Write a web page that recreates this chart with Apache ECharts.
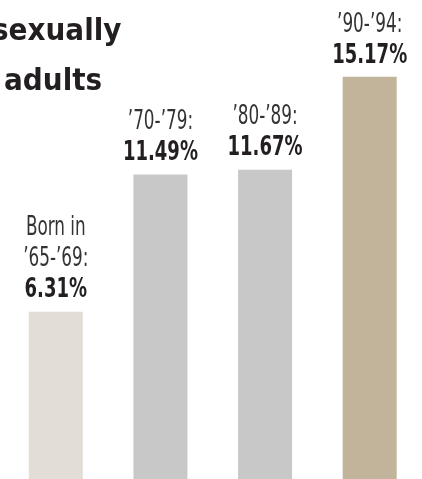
<!DOCTYPE html>
<html>
<head>
<meta charset="utf-8">
<script src="https://cdn.jsdelivr.net/npm/echarts@6/dist/echarts.min.js"></script>
<style>
html,body{margin:0;padding:0;background:#fff;}
#c{width:422px;height:479px;}
</style>
</head>
<body>
<div id="c"></div>
<script>
const categories = ["Born in\n’65-’69:", "’70-’79:", "’80-’89:", "’90-’94:"];
const values = [6.31, 11.49, 11.67, 15.17];
const valueLabels = ["6.31%", "11.49%", "11.67%", "15.17%"];
const barColors = ["#e2ded6", "#c8c8c8", "#c8c8c8", "#c2b49a"];
const titleLines = ["sexually", "adults"];

const FONT = "'DejaVu Sans Condensed', 'DejaVu Sans', sans-serif";

const chart = echarts.init(document.getElementById('c'), null, {renderer: 'canvas'});
chart.setOption({
  animation: false,
  backgroundColor: '#ffffff',
  title: [
    {text: titleLines[0], left: -8, top: 16, padding: 0, textStyle: {fontFamily: FONT, fontWeight: 'bold', fontSize: 31, color: '#231f20'}},
    {text: titleLines[1], left: 4, top: 66, padding: 0, textStyle: {fontFamily: FONT, fontWeight: 'bold', fontSize: 31, color: '#231f20'}}
  ],
  grid: {left: 3.5, width: 420, top: 0, bottom: 0, containLabel: false},
  xAxis: {
    type: 'category', data: categories,
    axisLine: {show: false}, axisTick: {show: false}, axisLabel: {show: false}, splitLine: {show: false}
  },
  yAxis: {
    type: 'value', min: 0, max: 18.07,
    axisLine: {show: false}, axisTick: {show: false}, axisLabel: {show: false}, splitLine: {show: false}
  },
  series: [{
    type: 'bar',
    barWidth: 54,
    data: values.map((v, i) => ({value: v, itemStyle: {color: barColors[i]}})),
    label: {show: false}
  }]
});

// Condensed labels placed at bar tops via the chart's own coordinate conversion
const LINE = 31;
const PCT_BOTTOM = -8;
const labelEls = values.map((v, i) => {
  const pt = chart.convertToPixel({seriesIndex: 0}, [i, v]);
  const lines = categories[i].split('\n');
  const children = [{
    type: 'text', x: 0, y: PCT_BOTTOM, scaleX: 0.77,
    style: {text: valueLabels[i], fontFamily: FONT, fontSize: 26, fontWeight: 'bold', fill: '#231f20', align: 'center', verticalAlign: 'bottom'}
  }];
  for (let k = 0; k < lines.length; k++) {
    const offset = lines.length - k;
    children.push({
      type: 'text', x: 0, y: PCT_BOTTOM - LINE * offset, scaleX: 0.72,
      style: {text: lines[k], fontFamily: FONT, fontSize: 26, fontWeight: 'normal', fill: '#333333', align: 'center', verticalAlign: 'bottom'}
    });
  }
  return {type: 'group', x: pt[0], y: pt[1], silent: true, children: children};
});
chart.setOption({graphic: {elements: labelEls}});
</script>
</body>
</html>
